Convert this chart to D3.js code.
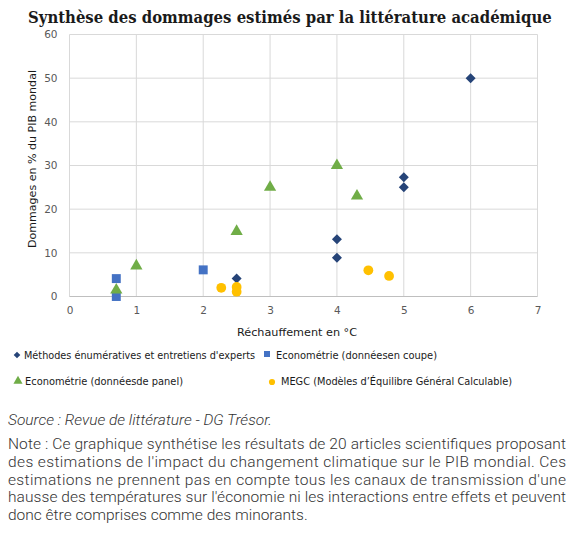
<!DOCTYPE html>
<html><head><meta charset="utf-8">
<script src="https://cdn.jsdelivr.net/npm/d3@7"></script>
<style>
body{margin:0;background:#fff;}
svg{display:block;}
</style></head>
<body>
<svg id="c" width="573" height="542"></svg>
<script>
const xTicks = [0,1,2,3,4,5,6,7];
const yTicks = [0,10,20,30,40,50,60];
const seriesNames = ["Méthodes énumératives et entretiens d'experts","Econométrie (donnéesen coupe)","Econométrie (donnéesde panel)","MEGC (Modèles d’Équilibre Général Calculable)"];
const enumX = [2.5,4,4,5,5,6];
const enumY = [4.1,13.1,8.9,27.3,25,50];
const coupeX = [0.7,0.7,2];
const coupeY = [4.1,0,6.1];
const panelX = [0.7,1,2.5,3,4,4.3];
const panelY = [1.5,7,14.9,25,30,23];
const megcX = [2.27,2.5,2.5,4.47,4.78];
const megcY = [2.0,2.2,1.1,6,4.7];
const title = "Synthèse des dommages estimés par la littérature académique";
const xTitle = "Réchauffement en °C";
const yTitle = "Dommages en % du PIB mondal";
const source = "Source : Revue de littérature - DG Trésor.";
const noteLines = [
 "Note : Ce graphique synthétise les résultats de 20 articles scientifiques proposant",
 "des estimations de l'impact du changement climatique sur le PIB mondial. Ces",
 "estimations ne prennent pas en compte tous les canaux de transmission d'une",
 "hausse des températures sur l'économie ni les interactions entre effets et peuvent",
 "donc être comprises comme des minorants."
];

const svg = d3.select("#c");
const x = d3.scaleLinear().domain([0,7]).range([69.5,537.5]);
const y = d3.scaleLinear().domain([0,60]).range([296.5,34.5]);

const tg = svg.append("g");
const tt = tg.append("text").attr("x",0).attr("y",0)
  .attr("font-family","DejaVu Serif").attr("font-weight","bold").attr("font-size",16.5)
  .attr("fill","#1a1a1a").text(title);
const tw = tt.node().getComputedTextLength();
tg.attr("transform",`translate(28,23) scale(${524/tw},1)`);

const g = svg.append("g");
g.selectAll(".vg").data(xTicks).join("line")
  .attr("x1",d=>x(d)).attr("x2",d=>x(d)).attr("y1",y(60)).attr("y2",y(0))
  .attr("stroke","#d9d9d9").attr("stroke-width",1);
g.selectAll(".hg").data(yTicks).join("line")
  .attr("x1",x(0)).attr("x2",x(7)).attr("y1",d=>y(d)).attr("y2",d=>y(d))
  .attr("stroke",d=>d===0?"#bfbfbf":"#d9d9d9").attr("stroke-width",1);

const yAxis = d3.axisLeft(y).tickValues(yTicks).tickSize(0).tickPadding(12).tickFormat(d3.format("d"));
const ya = svg.append("g").attr("transform",`translate(${x(0)},0)`).call(yAxis);
const xAxis = d3.axisBottom(x).tickValues(xTicks).tickSize(0).tickPadding(10).tickFormat(d3.format("d"));
const xa = svg.append("g").attr("transform",`translate(0,${y(0)})`).call(xAxis);
[ya,xa].forEach(a=>{a.select(".domain").remove();
  a.selectAll("text").attr("font-family","DejaVu Sans").attr("font-size",10.5).attr("fill","#595959");});

svg.append("text").attr("x",297).attr("y",336).attr("text-anchor","middle")
  .attr("font-family","DejaVu Sans").attr("font-size",10.5).attr("fill","#1a1a1a")
  .attr("textLength",120).attr("lengthAdjust","spacingAndGlyphs").text(xTitle);
svg.append("text").attr("transform","translate(36,159) rotate(-90)").attr("text-anchor","middle")
  .attr("font-family","DejaVu Sans").attr("font-size",10.5).attr("fill","#1a1a1a")
  .attr("textLength",178).attr("lengthAdjust","spacingAndGlyphs").text(yTitle);

const colors = ["#264478","#4472C4","#70AD47","#FFC000"];
const shapes = [d3.symbolSquare,d3.symbolSquare,d3.symbolTriangle,d3.symbolCircle];
const sizes = [50,80,65,75];
const rot = [45,0,0,0];
const series = [[enumX,enumY],[coupeX,coupeY],[panelX,panelY],[megcX,megcY]];
series.forEach((s,i)=>{
  const pts = s[0].map((v,j)=>[v,s[1][j]]);
  svg.append("g").selectAll("path").data(pts).join("path")
    .attr("d",d3.symbol().type(shapes[i]).size(sizes[i]))
    .attr("transform",d=>`translate(${x(d[0])},${y(d[1])}) rotate(${rot[i]})`)
    .attr("fill",colors[i]);
});

// legend
const leg = [
  {mx:17,my:355,tx:24,ty:359,w:231},
  {mx:267,my:354,tx:276,ty:359,w:161},
  {mx:18,my:381,tx:25,ty:385,w:158},
  {mx:272,my:382,tx:281,ty:385,w:231}
];
const lsizes=[22,36,36,30];
leg.forEach((l,i)=>{
  svg.append("path").attr("d",d3.symbol().type(shapes[i]).size(lsizes[i])())
    .attr("transform",`translate(${l.mx},${l.my}) rotate(${rot[i]})`).attr("fill",colors[i]);
  svg.append("text").attr("x",l.tx).attr("y",l.ty).attr("font-family","DejaVu Sans").attr("font-size",10)
    .attr("fill","#1a1a1a").attr("textLength",l.w).attr("lengthAdjust","spacingAndGlyphs").text(seriesNames[i]);
});

svg.append("text").attr("x",8).attr("y",425).attr("font-family","Roboto").attr("font-weight",300)
  .attr("font-style","italic").attr("font-size",15.5).attr("fill","#333").text(source);
noteLines.forEach((t,i)=>{
  const tx = svg.append("text").attr("x",8).attr("y",449+i*17.8).attr("font-family","Roboto").attr("font-weight",300)
    .attr("font-size",15.5).attr("fill","#333").text(t);
  if(i<4) tx.attr("textLength",558).attr("lengthAdjust","spacing");
});
</script>
</body></html>
